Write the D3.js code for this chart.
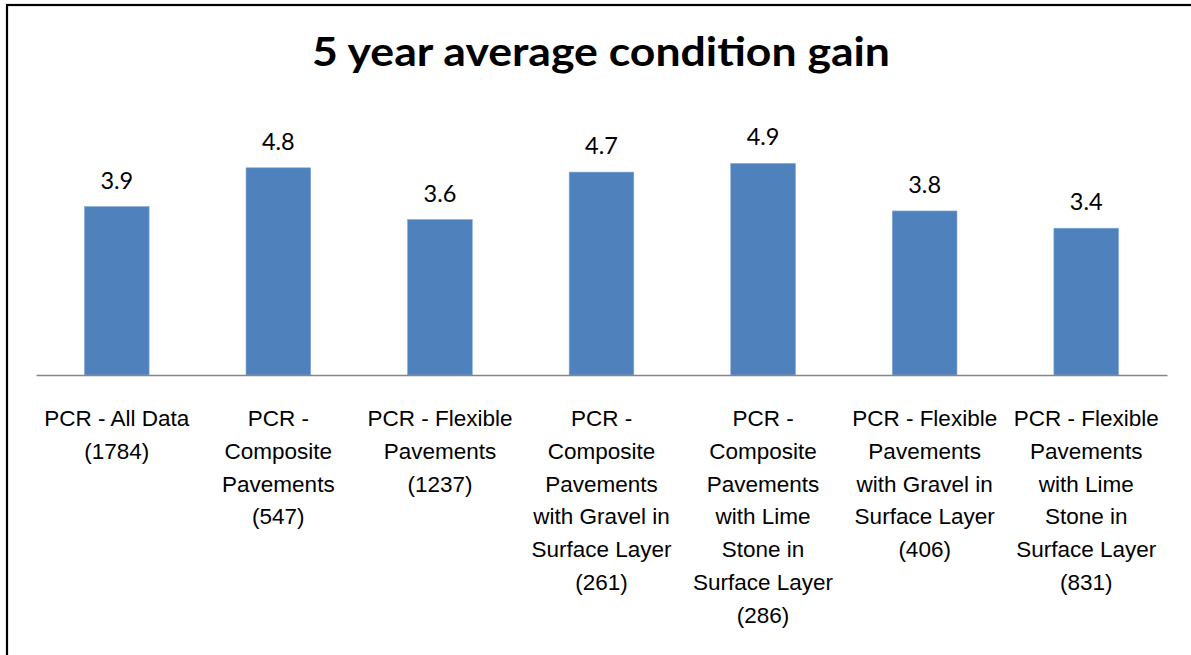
<!DOCTYPE html>
<html>
<head>
<meta charset="utf-8">
<script src="https://cdn.jsdelivr.net/npm/d3@7"></script>
<style>
  body { margin: 0; background: #fff; }
  svg { display: block; font-family: Lato, "Open Sans", sans-serif; }
</style>
</head>
<body>
<svg id="chart"></svg>
<script>
const title = "5 year average condition gain"

const categories = [
  "PCR - All Data (1784)",
  "PCR - Composite Pavements (547)",
  "PCR - Flexible Pavements (1237)",
  "PCR - Composite Pavements with Gravel in Surface Layer (261)",
  "PCR - Composite Pavements with Lime Stone in Surface Layer (286)",
  "PCR - Flexible Pavements with Gravel in Surface Layer (406)",
  "PCR - Flexible Pavements with Lime Stone in Surface Layer (831)"
]

// tick labels as they wrap in the original
const label_lines = [
  ["PCR - All Data", "(1784)"],
  ["PCR -", "Composite", "Pavements", "(547)"],
  ["PCR - Flexible", "Pavements", "(1237)"],
  ["PCR -", "Composite", "Pavements", "with Gravel in", "Surface Layer", "(261)"],
  ["PCR -", "Composite", "Pavements", "with Lime", "Stone in", "Surface Layer", "(286)"],
  ["PCR - Flexible", "Pavements", "with Gravel in", "Surface Layer", "(406)"],
  ["PCR - Flexible", "Pavements", "with Lime", "Stone in", "Surface Layer", "(831)"]
]

const values = [3.9, 4.8, 3.6, 4.7, 4.9, 3.8, 3.4]

const width = 1191
const height = 655
const marginLeft = 36
const marginRight = 24
const axisY = 375
const plotTop = 116

const svg = d3.select("#chart")
  .attr("width", width)
  .attr("height", height)

// chart frame (cropped on the right and bottom)
svg.append("rect")
  .attr("x", 7)
  .attr("y", 5)
  .attr("width", width + 20)
  .attr("height", height + 20)
  .attr("fill", "none")
  .attr("stroke", "#000")
  .attr("stroke-width", 2.2)

const x = d3.scaleBand()
  .domain(categories)
  .range([marginLeft, width - marginRight])
  .padding(0)

const y = d3.scaleLinear()
  .domain([0, 6])
  .range([axisY, plotTop])

const barWidth = x.bandwidth() * 0.4

svg.append("text")
  .attr("x", 601)
  .attr("y", 66)
  .attr("text-anchor", "middle")
  .attr("font-size", 40)
  .attr("font-weight", "bold")
  .attr("fill", "#000")
  .attr("textLength", 578)
  .attr("lengthAdjust", "spacingAndGlyphs")
  .text(title)

svg.selectAll(".bar")
  .data(values)
  .enter()
  .append("rect")
  .attr("class", "bar")
  .attr("x", (d, i) => x(categories[i]) + (x.bandwidth() - barWidth) / 2)
  .attr("y", d => y(d))
  .attr("width", barWidth)
  .attr("height", d => y(0) - y(d))
  .attr("fill", "#4F81BD")
  .attr("stroke", "#7FA4D3")
  .attr("stroke-width", 0.6)

svg.selectAll(".value")
  .data(values)
  .enter()
  .append("text")
  .attr("class", "value")
  .attr("x", (d, i) => x(categories[i]) + x.bandwidth() / 2)
  .attr("y", d => y(d) - 18)
  .attr("text-anchor", "middle")
  .attr("font-size", 23.5)
  .attr("fill", "#000")
  .text(d => d.toFixed(1))

// x axis
const axis = svg.append("g")
  .attr("transform", `translate(0,${axisY})`)
  .call(d3.axisBottom(x).tickSize(0).tickFormat(""))

axis.select(".domain")
  .attr("stroke", "#868686")
  .attr("stroke-width", 1.5)

axis.selectAll(".tick").each(function(d, i){
  const t = d3.select(this).append("text")
    .attr("text-anchor", "middle")
    .attr("font-size", 22.5)
    .attr("fill", "#000")
  label_lines[i].forEach((line, j) => {
    t.append("tspan")
      .attr("x", 0)
      .attr("y", 51 + j * 32.8)
      .text(line)
  })
})
</script>
</body>
</html>
